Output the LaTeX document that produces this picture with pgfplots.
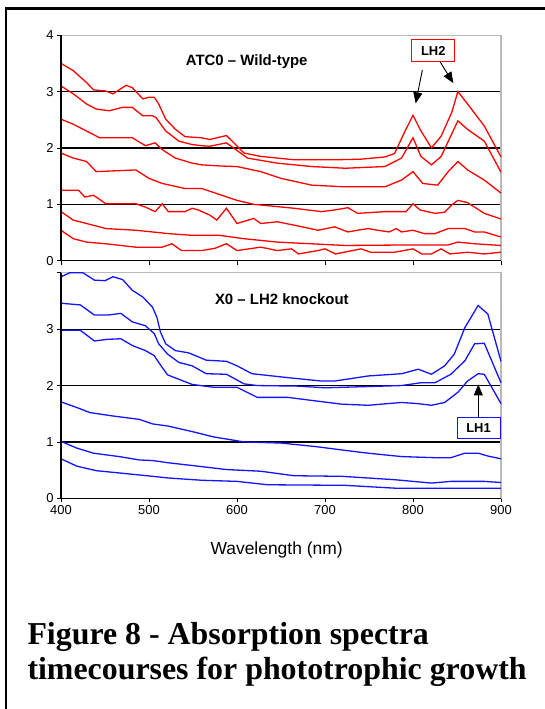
\documentclass[border=0pt]{standalone}
\usepackage{fontspec}
\setmainfont{Liberation Serif}
\newfontfamily\arial{Liberation Sans}
\usepackage{pgfplots}
\pgfplotsset{compat=1.18}
\usetikzlibrary{arrows.meta}

\definecolor{xlred}{RGB}{255,0,0}
\definecolor{xlblue}{RGB}{20,20,255}

\tikzset{callout/.style={-{Triangle[length=11bp,width=9bp]}, line width=0.9bp, black}}
\pgfplotsset{
  spec/.style={
    scale only axis, width=440bp, height=225.5bp, anchor=south west,
    xmin=400, xmax=900, ymin=0, ymax=4,
    xtick={400,500,...,900}, ytick={1,2,3},
    ymajorgrids, grid style={black, line width=1.2bp},
    extra y tick style={grid=none},
    axis line style={gray!55, line width=1.1bp},
    tick style={black, line width=0.8bp}, major tick length=4bp, tick align=outside,
    xtick pos=lower, ytick pos=left,
    ticklabel style={font=\arial\fontsize{13}{13}\selectfont},
    /pgf/number format/assume math mode=true,
    clip=false,
  },
  wt/.style={xlred, line width=1.3bp},
  ko/.style={xlblue, line width=1.3bp},
}

\begin{document}
\begin{tikzpicture}
\path[use as bounding box] (0,0) rectangle (545bp,709bp);
\draw[line width=2.2bp] (6bp,-5bp) -- (6bp,700.5bp) -- (550bp,700.5bp);

% wild type
\begin{axis}[spec, at={(61bp,448.3bp)}, xticklabels={},
    extra y ticks={0,4}]
\addplot[wt] coordinates {(400,3.50)(414,3.37)(429,3.16)(437,3.03)(451,3.01)(459,2.96)(466,3.03)(474,3.11)(481,3.07)(493,2.87)(500,2.90)(506,2.90)(511,2.78)(519,2.51)(530,2.33)(541,2.20)(560,2.18)(569,2.15)(588,2.22)(608,1.91)(627,1.85)(665,1.79)(711,1.79)(740,1.80)(768,1.84)(779,1.90)(791,2.30)(800,2.58)(808,2.33)(821,2.00)(832,2.21)(844,2.63)(851,3.00)(862,2.78)(881,2.39)(900,1.84)};
\addplot[wt] coordinates {(400,3.10)(414,2.96)(429,2.78)(440,2.69)(455,2.66)(470,2.72)(481,2.72)(493,2.57)(504,2.57)(508,2.54)(519,2.30)(534,2.12)(549,2.06)(560,2.04)(569,2.03)(588,2.09)(612,1.82)(646,1.73)(685,1.67)(723,1.64)(768,1.67)(787,1.82)(800,2.18)(809,1.85)(821,1.70)(832,1.85)(851,2.48)(862,2.33)(881,2.12)(900,1.57)};
\addplot[wt] coordinates {(400,2.51)(414,2.42)(429,2.30)(444,2.18)(481,2.18)(496,2.04)(507,2.09)(515,1.97)(530,1.82)(549,1.73)(560,1.70)(581,1.68)(600,1.67)(627,1.58)(650,1.46)(685,1.34)(723,1.31)(768,1.31)(787,1.43)(800,1.58)(811,1.37)(828,1.34)(840,1.58)(851,1.76)(862,1.61)(881,1.43)(900,1.20)};
\addplot[wt] coordinates {(400,1.91)(414,1.82)(429,1.76)(440,1.58)(485,1.61)(500,1.46)(515,1.37)(541,1.28)(560,1.28)(600,1.07)(619,1.00)(665,0.93)(696,0.87)(711,0.90)(726,0.94)(737,0.84)(768,0.87)(792,0.87)(800,1.01)(808,0.90)(825,0.84)(836,0.86)(844,0.99)(851,1.07)(862,1.03)(881,0.84)(900,0.74)};
\addplot[wt] coordinates {(400,1.25)(420,1.25)(427,1.13)(437,1.16)(451,1.01)(485,1.01)(496,0.95)(507,0.87)(515,1.01)(522,0.87)(541,0.87)(549,0.93)(556,0.90)(569,0.81)(577,0.72)(588,0.93)(600,0.66)(619,0.75)(627,0.66)(646,0.69)(665,0.63)(692,0.54)(711,0.60)(726,0.51)(737,0.54)(749,0.57)(760,0.54)(773,0.51)(781,0.57)(787,0.51)(800,0.54)(813,0.48)(825,0.48)(840,0.57)(859,0.57)(870,0.51)(881,0.51)(900,0.42)};
\addplot[wt] coordinates {(400,0.87)(414,0.72)(429,0.66)(451,0.57)(485,0.54)(504,0.51)(522,0.48)(549,0.45)(580,0.45)(608,0.39)(646,0.33)(723,0.27)(800,0.28)(840,0.28)(851,0.33)(870,0.30)(900,0.27)};
\addplot[wt] coordinates {(400,0.54)(414,0.39)(429,0.33)(451,0.30)(485,0.24)(515,0.24)(526,0.30)(537,0.18)(560,0.18)(575,0.22)(588,0.30)(600,0.18)(627,0.24)(646,0.18)(662,0.21)(670,0.12)(692,0.18)(700,0.21)(712,0.12)(741,0.21)(752,0.15)(779,0.15)(800,0.21)(810,0.12)(821,0.12)(832,0.21)(842,0.12)(862,0.15)(881,0.12)(900,0.15)};
\node[font=\arial\bfseries\fontsize{15}{15}\selectfont] at (axis cs:611,3.53) {ATC0 – Wild-type};
\node[draw=xlred, line width=1bp, fill=white, font=\arial\bfseries\fontsize{13}{13}\selectfont,
      minimum width=43bp, minimum height=22bp, inner sep=1bp] at (axis cs:823,3.72) {LH2};
\draw[callout] (axis cs:810.6,3.38) -- (axis cs:803,2.79);
\draw[callout] (axis cs:830.7,3.53) -- (axis cs:845.8,3.15);
\draw[black, line width=1.4bp] (rel axis cs:0,1) -- (rel axis cs:0,0) -- (rel axis cs:1,0);
\end{axis}

% LH2 knockout
\begin{axis}[spec, at={(61bp,210.7bp)},
    extra y ticks={0,4}, extra y tick labels={0,{}},
    xlabel={Wavelength (nm)},
    xlabel style={font=\arial\fontsize{17.5}{18}\selectfont, at={(axis description cs:0.49,0)}, anchor=center, yshift=-52bp}]
\addplot[ko] coordinates {(400,3.93)(410,4.0)(425,4.0)(438,3.87)(450,3.86)(459,3.93)(470,3.88)(481,3.69)(493,3.57)(504,3.39)(509,3.21)(513,2.95)(519,2.74)(530,2.62)(545,2.58)(556,2.51)(565,2.45)(588,2.43)(600,2.35)(617,2.21)(658,2.14)(696,2.08)(711,2.08)(749,2.17)(787,2.21)(806,2.29)(821,2.20)(836,2.35)(847,2.56)(859,3.03)(874,3.42)(885,3.27)(900,2.43)};
\addplot[ko] coordinates {(400,3.46)(422,3.43)(438,3.25)(453,3.25)(468,3.28)(481,3.13)(496,3.06)(506,2.92)(511,2.74)(521,2.56)(534,2.41)(549,2.35)(565,2.21)(588,2.20)(608,2.03)(623,2.00)(669,1.99)(700,1.96)(787,2.00)(809,2.05)(825,2.05)(843,2.20)(859,2.44)(870,2.74)(881,2.75)(900,2.05)};
\addplot[ko] coordinates {(400,2.98)(422,2.98)(438,2.79)(453,2.82)(468,2.83)(481,2.71)(496,2.62)(506,2.53)(511,2.41)(521,2.19)(534,2.11)(549,2.02)(573,1.97)(600,1.97)(623,1.79)(658,1.79)(688,1.73)(719,1.67)(749,1.65)(787,1.70)(805,1.68)(821,1.65)(836,1.70)(851,1.88)(862,2.08)(874,2.21)(881,2.20)(900,1.68)};
\addplot[ko] coordinates {(400,1.71)(418,1.61)(433,1.52)(459,1.46)(489,1.40)(504,1.32)(522,1.28)(550,1.18)(573,1.09)(608,1.00)(650,0.98)(688,0.92)(723,0.85)(749,0.80)(787,0.74)(825,0.72)(843,0.72)(859,0.80)(874,0.80)(885,0.75)(900,0.70)};
\addplot[ko] coordinates {(400,1.01)(418,0.89)(437,0.80)(466,0.74)(489,0.68)(504,0.67)(522,0.63)(550,0.58)(588,0.51)(627,0.48)(665,0.40)(719,0.39)(749,0.36)(779,0.33)(821,0.27)(843,0.30)(881,0.30)(900,0.28)};
\addplot[ko] coordinates {(400,0.70)(418,0.57)(440,0.49)(466,0.45)(504,0.39)(522,0.36)(560,0.32)(600,0.30)(635,0.24)(723,0.23)(779,0.18)(900,0.18)};
\node[font=\arial\bfseries\fontsize{15}{15}\selectfont] at (axis cs:651,3.53) {X0 – LH2 knockout};
\node[draw=xlblue, line width=1bp, fill=white, font=\arial\bfseries\fontsize{13}{13}\selectfont,
      minimum width=43bp, minimum height=21bp, inner sep=1bp] at (axis cs:874.5,1.25) {LH1};
\draw[callout] (axis cs:874.2,1.44) -- (axis cs:874.2,2.02);
\draw[black, line width=1.4bp] (rel axis cs:0,1) -- (rel axis cs:0,0) -- (rel axis cs:1,0);
\end{axis}

\node[anchor=base west, font=\bfseries\fontsize{32}{34}\selectfont] at (24bp,64bp) {Figure 8 - Absorption spectra};
\node[anchor=base west, font=\bfseries\fontsize{32}{34}\selectfont] at (24bp,30bp) {timecourses for phototrophic growth};
\end{tikzpicture}
\end{document}
